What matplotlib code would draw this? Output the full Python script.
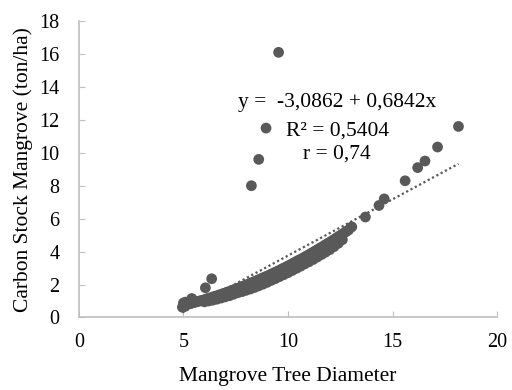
import numpy as np
import matplotlib
matplotlib.use("Agg")
import matplotlib.pyplot as plt

plt.rcParams['font.family'] = ['Liberation Serif', 'DejaVu Serif']

# tree diameter vs carbon stock
diameter = [4.95, 5.0, 5.0, 5.05, 5.1, 5.1, 5.2, 5.3, 5.4, 5.4, 5.5, 5.6, 5.7, 5.8, 5.9,
            6.0, 6.1, 6.2, 6.3, 6.4, 6.5, 6.6, 6.7, 6.8, 6.9,
            7.0, 7.1, 7.2, 7.3, 7.4, 7.5, 7.6, 7.7, 7.8, 7.9,
            8.0, 8.1, 8.2, 8.25, 8.3, 8.4, 8.5, 8.6, 8.6, 8.7, 8.8, 8.9, 8.95,
            9.0, 9.1, 9.2, 9.3, 9.4, 9.5, 9.55, 9.6, 9.7, 9.8, 9.9,
            10.0, 10.1, 10.2, 10.3, 10.4, 10.5, 10.6, 10.7, 10.8, 10.9,
            11.0, 11.1, 11.2, 11.3, 11.4, 11.5, 11.6, 11.7, 11.8, 11.9,
            12.0, 12.1, 12.2, 12.3, 12.4, 12.5, 12.6, 12.7, 12.8, 12.9, 13.05,
            13.7, 14.35, 14.6, 15.6, 16.2, 16.55, 17.15, 18.15,
            6.05, 6.35,
            6.0, 6.2, 6.4, 6.6, 6.8, 7.0, 7.2, 7.4, 7.6, 7.8,
            8.0, 8.2, 8.4, 8.6, 8.8, 9.0, 9.2, 9.4, 9.6, 9.8,
            10.0, 10.2, 10.4, 10.6, 10.8, 11.0, 11.2, 11.4, 11.6, 11.8,
            12.0, 12.2, 12.4, 12.6]
carbon = [0.62, 0.74, 0.88, 0.66, 0.77, 0.93, 0.80, 0.83, 0.87, 1.15, 0.90, 0.94, 0.97, 1.01, 1.04,
          1.08, 1.12, 1.16, 1.20, 1.24, 1.28, 1.32, 1.36, 1.40, 1.45,
          1.49, 1.54, 1.58, 1.63, 1.68, 1.72, 1.77, 1.82, 1.87, 1.92,
          1.97, 2.02, 2.08, 8.0, 2.13, 2.18, 2.24, 2.29, 9.6, 2.35, 2.40, 2.46, 11.5,
          2.51, 2.57, 2.63, 2.69, 2.75, 2.81, 16.1, 2.87, 2.94, 3.00, 3.06,
          3.13, 3.19, 3.26, 3.33, 3.40, 3.47, 3.53, 3.60, 3.67, 3.74,
          3.81, 3.89, 3.96, 4.04, 4.11, 4.19, 4.26, 4.34, 4.42, 4.50,
          4.57, 4.65, 4.73, 4.82, 4.90, 4.98, 5.06, 5.15, 5.23, 5.32, 5.50,
          6.1, 6.8, 7.2, 8.3, 9.1, 9.5, 10.35, 11.6,
          1.8, 2.35,
          0.95, 1.00, 1.05, 1.11, 1.18, 1.25, 1.32, 1.41, 1.50, 1.57,
          1.65, 1.73, 1.82, 1.92, 2.02, 2.13, 2.25, 2.36, 2.48, 2.60,
          2.72, 2.85, 2.98, 3.11, 3.25, 3.38, 3.52, 3.67, 3.82, 3.97,
          4.12, 4.30, 4.50, 4.72]

intercept = -3.0862
slope = 0.6842
eq_lines = ["y =  -3,0862 + 0,6842x", "R² = 0,5404", "r = 0,74"]

grey = '#595959'
fig = plt.figure(figsize=(5.12, 3.9), dpi=100)
ax = fig.add_axes([0.154, 0.186, 0.817, 0.76])

ax.scatter(diameter, carbon, s=60, color=grey, edgecolors='none', zorder=3)

xs = np.array([min(diameter), max(diameter)])
ax.plot(xs, intercept + slope * xs, linestyle=(0, (1, 1.2)), color=grey, lw=1.6, zorder=2)

ax.text(12.35, 13.07, eq_lines[0], ha='center', va='center', fontsize=15.5)
ax.text(12.35, 11.35, eq_lines[1], ha='center', va='center', fontsize=15.5)
ax.text(12.35, 9.93, eq_lines[2], ha='center', va='center', fontsize=15.5)

ax.set_xlim(0, 20)
ax.set_ylim(0, 18)
ax.set_xticks(range(0, 21, 5))
ax.set_yticks(range(0, 19, 2))
for s in ['top', 'right']:
    ax.spines[s].set_visible(False)
for s in ['left', 'bottom']:
    ax.spines[s].set_color('#bfbfbf')
    ax.spines[s].set_linewidth(1.2)
ax.tick_params(direction='in', length=4, color='#bfbfbf', labelsize=14.5)
ax.tick_params(axis='x', pad=11)
ax.tick_params(axis='y', pad=14)

ax.set_xlabel('Mangrove Tree Diameter', fontsize=15.5)
ax.set_ylabel('Carbon Stock Mangrove (ton/ha)', fontsize=15.5)
ax.xaxis.set_label_coords(0.5, -0.168)
ax.yaxis.set_label_coords(-0.11, 0.5)

fig.savefig('out.png', dpi=100)
